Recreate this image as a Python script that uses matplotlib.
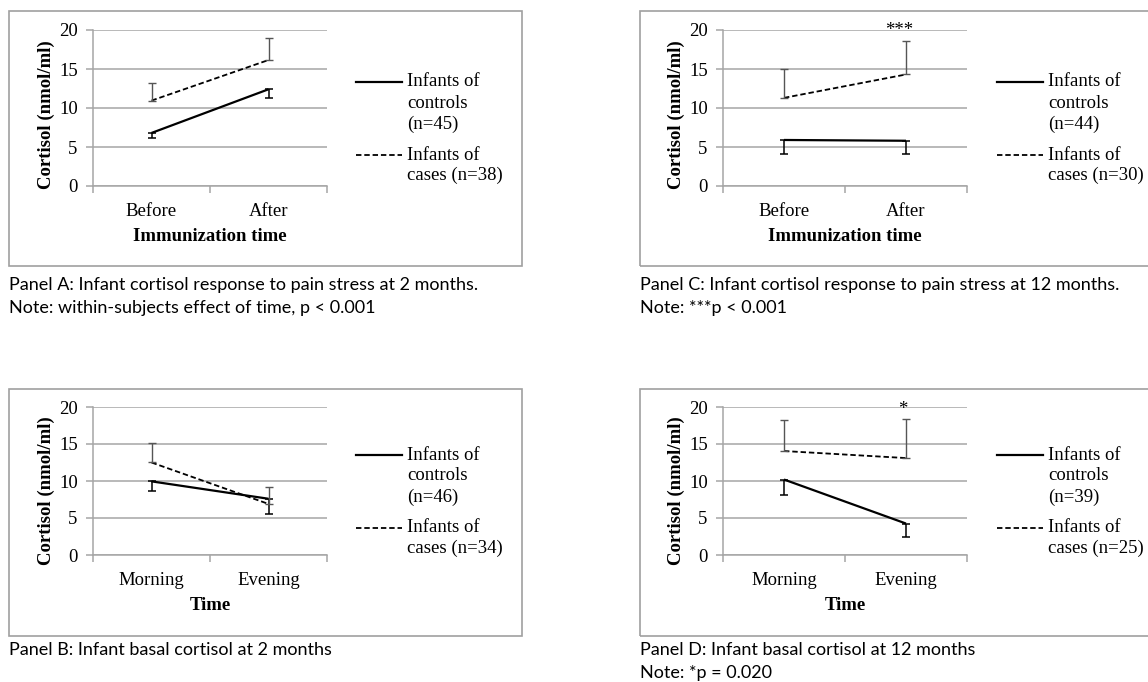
import matplotlib
matplotlib.use("Agg")
import matplotlib.pyplot as plt
from matplotlib.patches import Rectangle

W, H = 1148, 682

# data (nmol/ml)
times_immun = ["Before", "After"]
times_day = ["Morning", "Evening"]

controls_a = [6.8, 12.4]
controls_a_err = [0.6, 1.15]
cases_a = [10.95, 16.15]
cases_a_err = [2.3, 2.8]

controls_b = [9.95, 7.6]
controls_b_err = [1.3, 2.0]
cases_b = [12.5, 6.9]
cases_b_err = [2.6, 2.35]

controls_c = [5.9, 5.8]
controls_c_err = [1.8, 1.7]
cases_c = [11.3, 14.3]
cases_c_err = [3.7, 4.3]

controls_d = [10.2, 4.25]
controls_d_err = [2.05, 1.8]
cases_d = [14.05, 13.1]
cases_d_err = [4.2, 5.25]

n_labels = {"A": (45, 38), "B": (46, 34), "C": (44, 30), "D": (39, 25)}

SERIF = "Liberation Serif"
SANS = "Lato"
GRID = "#a6a6a6"
FS = 13.5


def fx(px):
    return px / W


def fy(py):
    return 1 - py / H


def px_axes(fig, left, top, right, bottom):
    return fig.add_axes([fx(left), fy(bottom), (right - left) / W, (bottom - top) / H])


def draw_panel(fig, ax, cats, ctrl, ctrl_err, case, case_err, xlabel, n_ctrl, n_case,
               leg_x, leg_y, ylab_y, star=None):
    x = [0.5, 1.5]
    zeros = [0, 0]
    ax.plot(x, ctrl, color="black", lw=1.6, solid_capstyle="butt")
    ax.errorbar(x, ctrl, yerr=[ctrl_err, zeros], fmt="none", ecolor="black",
                elinewidth=1.1, capsize=3, capthick=1.1)
    ax.plot(x, case, color="black", lw=1.3, ls=(0, (3, 1.6)))
    ax.errorbar(x, case, yerr=[zeros, case_err], fmt="none", ecolor="#555555",
                elinewidth=1.0, capsize=3, capthick=1.0, ls=":")

    ax.set_xlim(0, 2)
    ax.set_ylim(0, 20)
    ax.set_yticks([0, 5, 10, 15, 20])
    ax.yaxis.grid(True, color=GRID, lw=1.1)
    ax.set_axisbelow(True)
    for s in ["top", "right"]:
        ax.spines[s].set_visible(False)
    for s in ["left", "bottom"]:
        ax.spines[s].set_color(GRID)
        ax.spines[s].set_linewidth(1.1)
    ax.set_xticks(x, cats)
    ax.set_xticks([0, 1, 2], minor=True)
    ax.tick_params(axis="x", which="major", length=0, pad=12, labelsize=FS)
    ax.tick_params(axis="x", which="minor", length=5, color=GRID, width=1.1)
    ax.tick_params(axis="y", length=5, color=GRID, width=1.1, pad=6, labelsize=FS)
    for lab in ax.get_xticklabels() + ax.get_yticklabels():
        lab.set_fontfamily(SERIF)
    ax.set_xlabel(xlabel, fontfamily=SERIF, fontweight="bold", fontsize=FS, labelpad=6)
    ax.set_ylabel("Cortisol (nmol/ml)", fontfamily=SERIF, fontweight="bold",
                  fontsize=FS, labelpad=3)
    ax.yaxis.label.set_y(ylab_y)
    if star:
        ax.text(star[1], star[2], star[0], ha="center", va="baseline",
                fontfamily=SERIF, fontsize=FS)

    # legend drawn by hand to follow the wrapped labels
    txt = dict(ha="left", va="center", fontfamily=SERIF, fontsize=FS)
    fig.add_artist(plt.Line2D([fx(leg_x), fx(leg_x + 46)], [fy(leg_y), fy(leg_y)],
                              color="black", lw=1.6))
    for i, line in enumerate(["Infants of", "controls", "(n=%d)" % n_ctrl]):
        fig.text(fx(leg_x + 51), fy(leg_y + 21 * i), line, **txt)
    fig.add_artist(plt.Line2D([fx(leg_x), fx(leg_x + 46)], [fy(leg_y + 73), fy(leg_y + 73)],
                              color="black", lw=1.3, ls=(0, (3, 1.6))))
    for i, line in enumerate(["Infants of", "cases (n=%d)" % n_case]):
        fig.text(fx(leg_x + 51), fy(leg_y + 73 + 20.5 * i), line, **txt)


fig = plt.figure(figsize=(W / 100, H / 100), dpi=100)

# panel frames
for (l, t, r, b) in [(9, 11, 522, 266), (9, 389, 522, 636),
                     (640, 11, 1160, 266), (640, 389, 1160, 636)]:
    fig.add_artist(Rectangle((fx(l), fy(b)), (r - l) / W, (b - t) / H,
                             fill=False, edgecolor="#a0a0a0", lw=1.2))

ax_a = px_axes(fig, 93, 30, 327, 186)
draw_panel(fig, ax_a, times_immun, controls_a, controls_a_err, cases_a, cases_a_err,
           "Immunization time", *n_labels["A"], leg_x=356, leg_y=82, ylab_y=0.455)

ax_b = px_axes(fig, 93, 407, 327, 555)
draw_panel(fig, ax_b, times_day, controls_b, controls_b_err, cases_b, cases_b_err,
           "Time", *n_labels["B"], leg_x=356, leg_y=455, ylab_y=0.436)

ax_c = px_axes(fig, 723, 30, 967, 186)
draw_panel(fig, ax_c, times_immun, controls_c, controls_c_err, cases_c, cases_c_err,
           "Immunization time", *n_labels["C"], leg_x=997, leg_y=82, ylab_y=0.455,
           star=("***", 1.44, 19.4))

ax_d = px_axes(fig, 723, 407, 967, 555)
draw_panel(fig, ax_d, times_day, controls_d, controls_d_err, cases_d, cases_d_err,
           "Time", *n_labels["D"], leg_x=997, leg_y=455, ylab_y=0.436,
           star=("*", 1.47, 19.1))

cap = dict(ha="left", va="center", fontfamily=SANS, fontsize=13)
fig.text(fx(9), fy(285), "Panel A: Infant cortisol response to pain stress at 2 months.", **cap)
fig.text(fx(9), fy(308), "Note: within-subjects effect of time, p < 0.001", **cap)
fig.text(fx(640), fy(285), "Panel C: Infant cortisol response to pain stress at 12 months.", **cap)
fig.text(fx(640), fy(308), "Note: ***p < 0.001", **cap)
fig.text(fx(9), fy(650), "Panel B: Infant basal cortisol at 2 months", **cap)
fig.text(fx(640), fy(650), "Panel D: Infant basal cortisol at 12 months", **cap)
fig.text(fx(640), fy(673), "Note: *p = 0.020", **cap)

fig.savefig("out.png", dpi=100)
